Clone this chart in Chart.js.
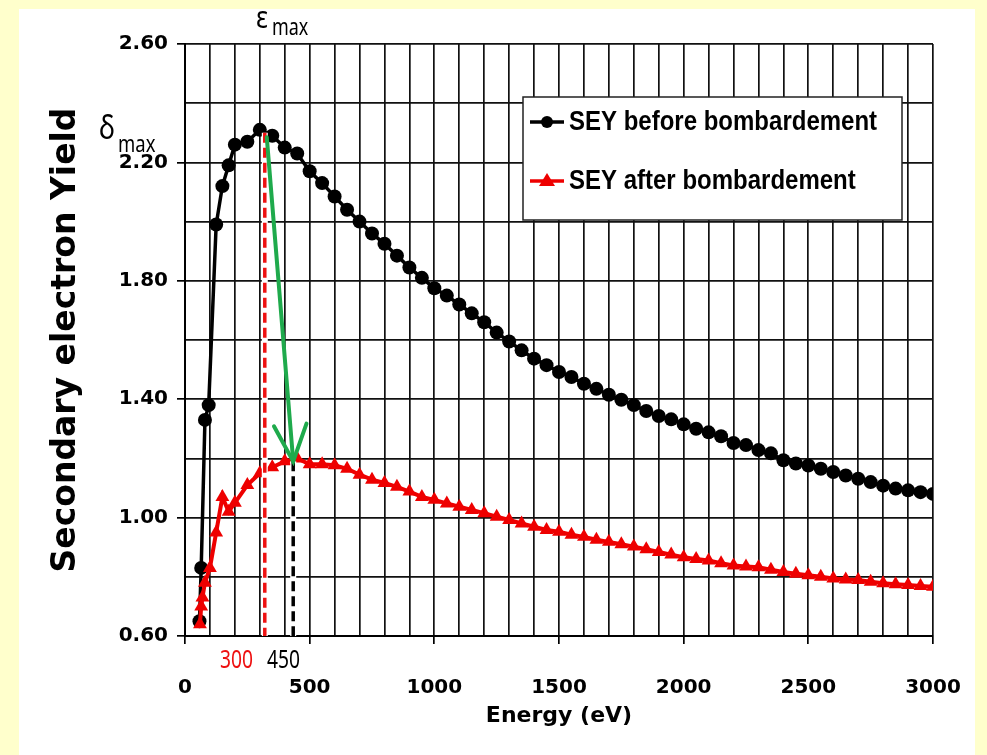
<!DOCTYPE html>
<html>
<head>
<meta charset="utf-8">
<script src="https://cdn.jsdelivr.net/npm/chart.js@4.4.0/dist/chart.umd.min.js"></script>
<style>
  html, body { margin: 0; padding: 0; background: #ffffcc; }
  canvas { display: block; }
</style>
</head>
<body>
<canvas id="seyChart" width="987" height="755"></canvas>
<script>
// SEY curves (energy in eV, yield)
const energyBefore = [58, 65, 80, 95, 125, 150, 175, 200, 250, 300, 350, 400, 450, 500, 550,
  600, 650, 700, 750, 800, 850, 900, 950, 1000, 1050, 1100, 1150, 1200, 1250, 1300, 1350, 1400, 1450,
  1500, 1550, 1600, 1650, 1700, 1750, 1800, 1850, 1900, 1950, 2000, 2050, 2100, 2150, 2200, 2250,
  2300, 2350, 2400, 2450, 2500, 2550, 2600, 2650, 2700, 2750, 2800, 2850, 2900, 2950, 3000];
const yieldBefore = [0.65, 0.83, 1.33, 1.38, 1.99, 2.12, 2.19, 2.26, 2.27, 2.31, 2.29, 2.25, 2.23, 2.17, 2.13,
  2.085, 2.04, 2.00, 1.96, 1.925, 1.885, 1.845, 1.81, 1.775, 1.75, 1.72, 1.69, 1.66, 1.625, 1.595, 1.565, 1.537, 1.515,
  1.492, 1.475, 1.452, 1.435, 1.415, 1.398, 1.38, 1.36, 1.343, 1.332, 1.315, 1.30, 1.288, 1.275, 1.252, 1.245,
  1.228, 1.217, 1.194, 1.183, 1.176, 1.165, 1.154, 1.142, 1.131, 1.12, 1.108, 1.098, 1.092, 1.086, 1.08];

const energyAfter = [60, 65, 70, 80, 100, 125, 150, 175, 200, 250, 300, 350, 400, 450, 500, 550,
  600, 650, 700, 750, 800, 850, 900, 950, 1000, 1050, 1100, 1150, 1200, 1250, 1300, 1350, 1400, 1450,
  1500, 1550, 1600, 1650, 1700, 1750, 1800, 1850, 1900, 1950, 2000, 2050, 2100, 2150, 2200, 2250,
  2300, 2350, 2400, 2450, 2500, 2550, 2600, 2650, 2700, 2750, 2800, 2850, 2900, 2950, 3000];
const yieldAfter = [0.64, 0.70, 0.73, 0.78, 0.83, 0.95, 1.07, 1.02, 1.05, 1.11, 1.15, 1.17, 1.19, 1.20, 1.18, 1.18,
  1.177, 1.165, 1.145, 1.128, 1.117, 1.104, 1.088, 1.07, 1.06, 1.048, 1.037, 1.026, 1.015, 1.003, 0.992, 0.98, 0.969, 0.958,
  0.952, 0.942, 0.935, 0.925, 0.918, 0.91, 0.902, 0.893, 0.884, 0.875, 0.866, 0.86, 0.855, 0.846, 0.838, 0.835,
  0.832, 0.824, 0.816, 0.81, 0.805, 0.80, 0.794, 0.791, 0.789, 0.783, 0.778, 0.775, 0.772, 0.769, 0.766];

const seriesNames = ['SEY before bombardement', 'SEY after bombardement'];

// axis ranges / tick spacing
const xMin = 0, xMax = 3000, xStep = 100, xLabelStep = 500;
const yMin = 0.6, yMax = 2.6, yStep = 0.2;

// the marks added by hand on the original (energy, yield)
const peakBefore = { x: 320, y: 2.30 };
const peakAfter = { x: 434, y: 1.19 };
const arrowStart = { x: 328, y: 2.285 };

// turn two arrays into {x, y} points
function toPoints(xs, ys) {
  let pts = [];
  for (let i = 0; i < xs.length; i++) {
    pts.push({ x: xs[i], y: ys[i] });
  }
  return pts;
}

// the hand labels use a narrow font, so squeeze Noto Sans sideways
function narrowText(c, text, x, y, size, color, sx) {
  c.save();
  c.translate(x, y);
  c.scale(sx, 1);
  c.font = size + 'px "Noto Sans"';
  c.fillStyle = color;
  c.textAlign = 'left';
  c.textBaseline = 'alphabetic';
  c.fillText(text, 0, 0);
  c.restore();
}

// yellow page with the white sheet on it
const sheetPlugin = {
  id: 'sheet',
  beforeDraw(chart) {
    const c = chart.ctx;
    c.save();
    c.fillStyle = '#ffffcc';
    c.fillRect(0, 0, chart.width, chart.height);
    c.fillStyle = '#ffffff';
    c.fillRect(19, 9, 956, chart.height - 9);
    c.restore();
  }
};

// dashed drop lines, green arrow and the little labels
const markPlugin = {
  id: 'marks',
  afterDatasetsDraw(chart) {
    const c = chart.ctx;
    const xs = chart.scales.x, ys = chart.scales.y;
    const bottom = ys.getPixelForValue(yMin);

    function dropLine(p, color) {
      const px = xs.getPixelForValue(p.x);
      const py = ys.getPixelForValue(p.y);
      c.save();
      c.strokeStyle = '#ffffff';
      c.lineWidth = 6;
      c.beginPath(); c.moveTo(px, py); c.lineTo(px, bottom); c.stroke();
      c.strokeStyle = color;
      c.lineWidth = 3.5;
      c.setLineDash([10, 5]);
      c.beginPath(); c.moveTo(px, py); c.lineTo(px, bottom); c.stroke();
      c.restore();
    }
    dropLine(peakBefore, '#ee1111');
    dropLine(peakAfter, '#000000');

    // green arrow
    const x0 = xs.getPixelForValue(arrowStart.x), y0 = ys.getPixelForValue(arrowStart.y);
    const x1 = xs.getPixelForValue(peakAfter.x), y1 = ys.getPixelForValue(peakAfter.y);
    const ang = Math.atan2(y1 - y0, x1 - x0);
    c.save();
    c.strokeStyle = '#1faa4c';
    c.lineWidth = 4;
    c.lineCap = 'round';
    c.beginPath(); c.moveTo(x0, y0); c.lineTo(x1, y1); c.stroke();
    c.beginPath();
    c.moveTo(x1 - 40 * Math.cos(ang - 0.42), y1 - 40 * Math.sin(ang - 0.42));
    c.lineTo(x1, y1);
    c.lineTo(x1 - 40 * Math.cos(ang + 0.42), y1 - 40 * Math.sin(ang + 0.42));
    c.stroke();
    c.restore();

    // text marks
    narrowText(c, 'ε', 256, 28, 30, '#000', 0.85);
    narrowText(c, 'max', 272, 35, 23, '#000', 0.78);
    narrowText(c, 'δ', 99, 139, 32, '#000', 0.85);
    narrowText(c, 'max', 118, 152, 24, '#000', 0.77);
    narrowText(c, '300', 220, 668, 25, '#ee1111', 0.77);
    narrowText(c, '450', 267, 668, 25, '#000', 0.77);
  }
};

// legend box inside the plot
const boxLegend = {
  id: 'boxLegend',
  afterDatasetsDraw(chart) {
    const c = chart.ctx;
    c.save();
    c.fillStyle = '#ffffff';
    c.fillRect(523, 97, 379, 123);
    c.strokeStyle = '#222';
    c.lineWidth = 1.5;
    c.strokeRect(523, 97, 379, 123);
    const rows = [122, 181];
    chart.data.datasets.forEach(function(ds, i) {
      const y = rows[i];
      c.strokeStyle = ds.borderColor;
      c.fillStyle = ds.borderColor;
      c.lineWidth = 3.5;
      c.beginPath(); c.moveTo(530, y); c.lineTo(564, y); c.stroke();
      c.beginPath();
      if (ds.pointStyle === 'triangle') {
        c.moveTo(547, y - 8); c.lineTo(555, y + 5); c.lineTo(539, y + 5);
        c.closePath();
      } else {
        c.arc(547, y, 6, 0, Math.PI * 2);
      }
      c.fill();
      c.fillStyle = '#000';
      c.font = 'bold 24px "Liberation Sans"';
      c.textBaseline = 'middle';
      c.save();
      c.translate(569, y + 1);
      c.scale(1, 1.12);
      c.fillText(ds.label, 0, 0);
      c.restore();
    });
    c.restore();
  }
};

const ctx = document.getElementById('seyChart').getContext('2d');
const chart = new Chart(ctx, {
  type: 'line',
  data: {
    datasets: [{
      label: seriesNames[0],
      data: toPoints(energyBefore, yieldBefore),
      borderColor: '#000000',
      backgroundColor: '#000000',
      borderWidth: 3.5,
      pointStyle: 'circle',
      pointRadius: 7,
      pointBorderWidth: 0,
      tension: 0,
      order: 1
    }, {
      label: seriesNames[1],
      data: toPoints(energyAfter, yieldAfter),
      borderColor: '#ee0000',
      backgroundColor: '#ee0000',
      borderWidth: 4,
      pointStyle: 'triangle',
      pointRadius: 8,
      pointBorderWidth: 0,
      tension: 0,
      order: 0
    }]
  },
  options: {
    responsive: false,
    animation: false,
    layout: { padding: { left: 0, top: 44, right: 54, bottom: 0 } },
    plugins: {
      legend: { display: false },
      tooltip: { enabled: false }
    },
    scales: {
      x: {
        type: 'linear',
        min: xMin,
        max: xMax,
        // fixed axis height; the big tick padding should not eat the right margin
        afterFit: function(scale) {
          scale.height = 119;
          scale.paddingRight = 20;
          scale.paddingLeft = 20;
        },
        grid: {
          color: '#111',
          lineWidth: 1.7,
          tickLength: 8,
          tickColor: function(c) {
            return (c.tick && c.tick.value % xLabelStep === 0) ? '#000' : 'rgba(0,0,0,0)';
          }
        },
        border: { color: '#000', width: 2 },
        ticks: {
          stepSize: xStep,
          autoSkip: false,
          maxRotation: 0,
          padding: 32,
          color: '#000',
          font: { family: 'DejaVu Sans', weight: 'bold', size: 20 },
          callback: function(v) { return v % xLabelStep === 0 ? String(v) : ''; }
        },
        title: {
          display: true,
          text: 'Energy (eV)',
          color: '#000',
          font: { family: 'DejaVu Sans', weight: 'bold', size: 22 },
          padding: { top: 0, bottom: 26 }
        }
      },
      y: {
        min: yMin,
        max: yMax,
        afterFit: function(scale) { scale.width = 185; },
        grid: {
          color: '#111',
          lineWidth: 1.7,
          tickLength: 8,
          tickColor: function(c) {
            return (c.index % 2 === 0) ? '#000' : 'rgba(0,0,0,0)';
          }
        },
        border: { color: '#000', width: 2 },
        ticks: {
          stepSize: yStep,
          autoSkip: false,
          padding: 9,
          color: '#000',
          font: { family: 'DejaVu Sans', weight: 'bold', size: 20 },
          callback: function(v, i) { return i % 2 === 0 ? v.toFixed(2) : ''; }
        },
        title: {
          display: true,
          text: 'Secondary electron Yield',
          color: '#000',
          font: { family: 'DejaVu Sans', weight: 'bold', size: 33 },
          padding: { top: 47, bottom: 0 }
        }
      }
    }
  },
  plugins: [sheetPlugin, markPlugin, boxLegend]
});
</script>
</body>
</html>
